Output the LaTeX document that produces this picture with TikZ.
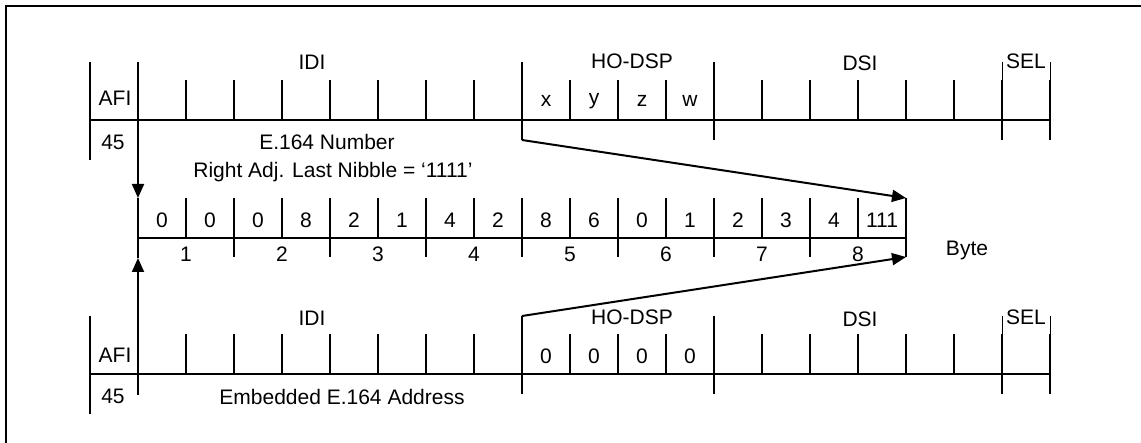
\documentclass[tikz,border=0pt]{standalone}
\usepackage{fontspec}
\setmainfont{Liberation Sans}
\usetikzlibrary{arrows.meta}

\tikzset{
	ln/.style={line width=1pt},
	thinln/.style={line width=0.5pt},
	arr/.style={line width=1pt, -{Triangle[length=7pt,width=6pt]}},
	lbl/.style={inner sep=0pt, font=\fontsize{10.5}{12}\selectfont},
}

\begin{document}
\begin{tikzpicture}[x=0.5pt, y=-0.5pt]
	\useasboundingbox (0,0) rectangle (1141,443);
	% Рамка
	\draw[ln] (6,443) -- (6,6) -- (1141,6);
	
	% Верхняя и нижняя строки NSAP
	\foreach \b in {120, 374} {
		\draw[ln] (90,\b) -- (1050,\b);
		\draw[ln] (90,\b-58) -- (90,\b+40);
		\foreach \x in {186,234,282,330,378,426,474,570,618,666,762,810,858,906,954}
			\draw[ln] (\x,\b-40) -- (\x,\b);
		\foreach \x in {522,714}
			\draw[ln] (\x,\b-58) -- (\x,\b+20);
		\foreach \x in {1002,1050} {
			\draw[thinln] (\x,\b-58) -- (\x,\b-40);
			\draw[ln] (\x,\b-40) -- (\x,\b+20);
		}
	}
	
	\node[lbl] (idiA) at (312,62) {IDI};
	\node[lbl] (hoA) at (632,61) {HO-DSP};
	\node[lbl] (dsiA) at (860,63) {DSI};
	\node[lbl] (selA) at (1026,61) {SEL};
	\node[lbl] (afiA) at (115,98) {AFI};
	\node[lbl] (nA) at (113,142) {45};
	\foreach \c [count=\i from 0] in {x,y,z,w}
		\node[lbl] (hoA\i) at (546+48*\i,101) {\c};
	\node[lbl] (e164) at (327,142) {E.164 Number};
	\node[lbl] (nib) at (333,172) {Right Adj. Last Nibble = ‘1111’};
	
	\node[lbl] (idiB) at (312,318) {IDI};
	\node[lbl] (hoB) at (632,317) {HO-DSP};
	\node[lbl] (dsiB) at (860,319) {DSI};
	\node[lbl] (selB) at (1026,317) {SEL};
	\node[lbl] (afiB) at (115,355) {AFI};
	\node[lbl] (nB) at (113,396) {45};
	\foreach \i in {0,...,3}
		\node[lbl] (hoB\i) at (546+48*\i,356) {0};
	\node[lbl] (emb) at (342,397) {Embedded E.164 Address};
	
	% Средняя строка: полубайты
	\draw[ln] (138,238) -- (906,238);
	\foreach \x in {186,282,...,858}
		\draw[ln] (\x,198) -- (\x,238);
	\foreach \x in {234,330,...,906}
		\draw[ln] (\x,198) -- (\x,257);
	\foreach \d [count=\i from 0] in {0,0,0,8,2,1,4,2,8,6,0,1,2,3,4,111}
		\node[lbl] (d\i) at (162+48*\i,220) {\d};
	\foreach \i in {1,...,8}
		\node[lbl] (b\i) at (90+96*\i,254) {\i};
	\node[lbl] (byte) at (967,250) {Byte};
	
	% Стрелки
	\coordinate (afiTop) at (138,62);
	\coordinate (afiBot) at (138,395);
	\coordinate (nibL) at (138,198);
	\coordinate (byteL) at (138,258);
	\coordinate (hoTop) at (522,140);
	\coordinate (hoBot) at (522,316);
	\coordinate (nibR) at (906,198);
	\coordinate (byteR) at (906,257);
	\draw[arr] (afiTop) -- (nibL);
	\draw[arr] (afiBot) -- (byteL);
	\draw[ln] (nibL) -- (byteL);
	\draw[arr] (hoTop) -- (nibR);
	\draw[arr] (hoBot) -- (byteR);
\end{tikzpicture}
\end{document}
